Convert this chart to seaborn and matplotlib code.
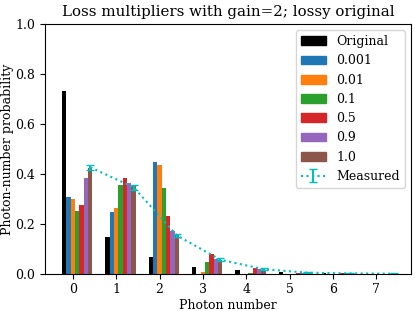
import numpy as np
import pandas as pd
import matplotlib as mpl
mpl.use('Agg')
import matplotlib.pyplot as plt
import matplotlib.patches as mpatches
import seaborn as sns

# =============================================
# Data
# =============================================
photon = [0, 1, 2, 3, 4, 5, 6, 7]

original = [0.733, 0.147, 0.068, 0.028, 0.013, 0.005, 0.001, 0.0]
loss_0001 = [0.306, 0.246, 0.449, 0.0, 0.0, 0.0, 0.0, 0.0]
loss_001 = [0.298, 0.263, 0.436, 0.006, 0.0, 0.0, 0.0, 0.0]
loss_01 = [0.251, 0.354, 0.345, 0.045, 0.003, 0.0, 0.0, 0.0]
loss_05 = [0.275, 0.385, 0.230, 0.080, 0.023, 0.004, 0.001, 0.0]
loss_09 = [0.384, 0.362, 0.172, 0.060, 0.019, 0.004, 0.001, 0.0]
loss_10 = [0.422, 0.357, 0.156, 0.056, 0.015, 0.003, 0.001, 0.0]

measured = [0.426, 0.346, 0.153, 0.056, 0.018, 0.004, 0.001, 0.0]
measured_err = [0.010, 0.010, 0.007, 0.005, 0.003, 0.002, 0.001, 0.001]

series_names = ['Original', '0.001', '0.01', '0.1', '0.5', '0.9', '1.0']
series_vals = [original, loss_0001, loss_001, loss_01, loss_05, loss_09, loss_10]
colors = ['black', '#1f77b4', '#ff7f0e', '#2ca02c', '#d62728', '#9467bd', '#8c564b']

rows = []
for name, vals in zip(series_names, series_vals):
    for n, v in zip(photon, vals):
        rows.append({'photon': n + 0.1, 'prob': v, 'series': name})
df = pd.DataFrame(rows)

# =============================================
# Plotting (plain matplotlib look, serif text)
# =============================================
plt.rcParams['font.family'] = ['DejaVu Serif']
plt.rcParams['font.size'] = 9

fig = plt.figure(figsize=(4.15, 3.11), dpi=100)
ax = fig.add_axes([0.108, 0.12, 0.882, 0.803])

sns.barplot(data=df, x='photon', y='prob', hue='series',
            hue_order=series_names, palette=colors,
            native_scale=True, width=0.7, saturation=1,
            errorbar=None, legend=False, linewidth=0, ax=ax)

eb = ax.errorbar(np.array(photon) + 0.4, measured, yerr=measured_err,
                 fmt=':', color='c', capsize=3, label='Measured')

handles = [mpatches.Patch(color=c, label=l) for c, l in zip(colors, series_names)]
handles.append(eb)
ax.legend(handles=handles, loc='upper right')

ax.set_xlim(-0.65, 7.8)
ax.set_ylim(0, 1.0)
ax.set_xticks(photon)
ax.set_yticks([0.0, 0.2, 0.4, 0.6, 0.8, 1.0])
ax.set_xlabel('Photon number', labelpad=2)
ax.set_ylabel('Photon-number probability', labelpad=1)
ax.set_title('Loss multipliers with gain=2; lossy original')

fig.savefig('out.png', dpi=100)
